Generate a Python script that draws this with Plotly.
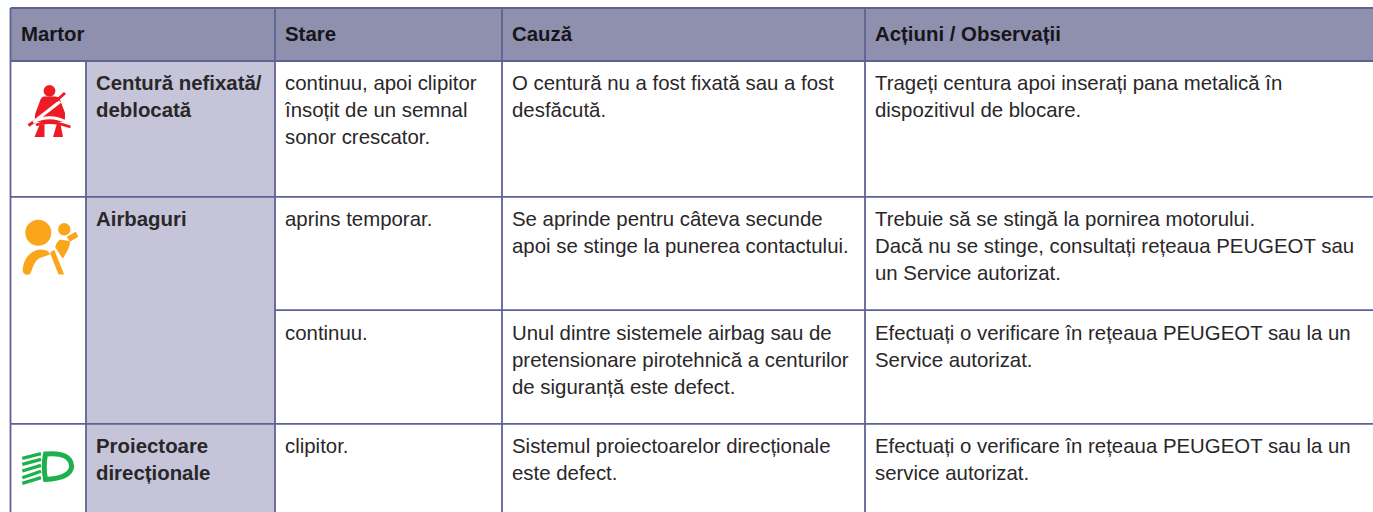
import plotly.graph_objects as go

WIDTH, HEIGHT = 1373, 512

# Table content
header_labels = ["Martor", "Stare", "Cauză", "Acțiuni / Observații"]
header_x = [21, 285, 512, 875]
header_y = 36

lamp_labels = [
    ["Centură nefixată/", "deblocată"],
    ["Airbaguri"],
    ["Proiectoare", "direcționale"],
]
lamp_label_y = [85, 221, 448]

stare = [
    ["continuu, apoi clipitor", "însoțit de un semnal", "sonor crescator."],
    ["aprins temporar."],
    ["continuu."],
    ["clipitor."],
]
cauza = [
    ["O centură nu a fost fixată sau a fost", "desfăcută."],
    ["Se aprinde pentru câteva secunde", "apoi se stinge la punerea contactului."],
    ["Unul dintre sistemele airbag sau de", "pretensionare pirotehnică a centurilor", "de siguranță este defect."],
    ["Sistemul proiectoarelor direcționale", "este defect."],
]
actiuni = [
    ["Trageți centura apoi inserați pana metalică în", "dispozitivul de blocare."],
    ["Trebuie să se stingă la pornirea motorului.", "Dacă nu se stinge, consultați rețeaua PEUGEOT sau", "un Service autorizat."],
    ["Efectuați o verificare în rețeaua PEUGEOT sau la un", "Service autorizat."],
    ["Efectuați o verificare în rețeaua PEUGEOT sau la un", "service autorizat."],
]
row_first_line_y = [85, 221, 335, 448]
line_step = 27.2

# Grid geometry
col_x = [10.5, 86, 275, 502, 865]
top_y, head_y, bottom_y = 8, 61, 512
row_y = [196.8, 310.2, 423.8]

BORDER = "#5f6193"
HEAD_FILL = "#8f8fae"
SUB_FILL = "#c5c4d8"
INK = "#2a2729"
RED, AMBER, GREEN = "#ed1c24", "#faa61a", "#1cb14c"


def rect(x0, y0, x1, y1, fill):
    return dict(type="rect", x0=x0, y0=y0, x1=x1, y1=y1, fillcolor=fill, line_width=0, layer="below")


def line(x0, y0, x1, y1, color=BORDER, width=1.8):
    return dict(type="line", x0=x0, y0=y0, x1=x1, y1=y1, line=dict(color=color, width=width), layer="below")


def blob(path, fill, stroke=None, width=0):
    return dict(type="path", path=path, fillcolor=fill, line=dict(color=stroke or fill, width=width), layer="above")


def circle(cx, cy, r, fill):
    return dict(type="circle", x0=cx - r, x1=cx + r, y0=cy - r, y1=cy + r, fillcolor=fill, line_width=0, layer="above")


def stroke(path, color, width):
    return dict(type="path", path=path, line=dict(color=color, width=width), layer="above")


shapes = [
    rect(col_x[0], top_y, WIDTH, head_y, HEAD_FILL),
    rect(col_x[1], head_y, col_x[2], bottom_y, SUB_FILL),
    line(col_x[0], top_y, WIDTH, top_y),
    line(col_x[0], head_y, WIDTH, head_y, width=2),
    line(col_x[0], row_y[0], WIDTH, row_y[0]),
    line(col_x[2], row_y[1], WIDTH, row_y[1]),
    line(col_x[0], row_y[2], WIDTH, row_y[2]),
    line(col_x[0], top_y, col_x[0], bottom_y),
    line(col_x[1], head_y, col_x[1], bottom_y),
]
shapes += [line(x, top_y, x, bottom_y) for x in col_x[2:]]

# Seat belt lamp
shapes += [
    circle(49.5, 90.8, 5.9, RED),
    blob("M44,96.5 L56,96.5 Q59,97 60.5,101 L65,113 Q65.5,118 64,122 L36,122 Q34,118 35.5,113 L40,101 Q41,97 44,96.5 Z", RED),
    stroke("M38.5,118.5 L28.5,125.5", RED, 3),
    stroke("M35,121 L60,101.5", "#ffffff", 3.4),
    stroke("M56,101 L65,93", RED, 3),
    stroke("M33,122 Q50,113.5 66,122", "#ffffff", 2.8),
    stroke("M36,125 Q50,119.5 70.5,127", RED, 2.6),
    blob("M39.5,125 L34.5,137 L44.5,137 L44.5,124 Z", RED),
    blob("M57,123.5 L53,137 L63,137 L60.5,124 Z", RED),
]

# Airbag lamp
shapes += [
    circle(38.3, 232.7, 13, AMBER),
    circle(64.3, 229.3, 6.2, AMBER),
    blob("M23.3,270.5 Q24,258 33,252.5 Q38,249.5 43.3,250.5 L47.5,251.5 L49,254 L39,257.5 Q34.5,260.5 32.7,265.5 L31,270 Q30,274 27.7,274 Q24,274.5 23.3,270.5 Z", AMBER, AMBER, 1.4),
    blob("M50.5,252.7 L54,250.5 L63.5,274 L58.8,274 Z", AMBER, AMBER, 1),
    blob("M55.7,247 Q57,241.5 60,240 L69.5,241.5 Q69.5,246 67.3,250 L62.7,258 Z", AMBER, AMBER, 1),
    blob("M66.7,236.7 L75.7,231.7 L78.3,236.7 L70,241.7 Z", AMBER),
]

# Directional headlamp lamp
shapes += [
    blob("M45.5,454 Q71,451.5 71.7,466.7 Q70,478.5 45.5,479.5 Q43,467 45.5,454 Z", "#ffffff", GREEN, 5),
]
shapes += [
    stroke(f"M22.3,{left} L41,{right}", GREEN, 3.3)
    for left, right in [(458.3, 453.6), (464.3, 459.3), (471, 465.3), (477.7, 471.3), (483.3, 477.7)]
]


def text_rows(rows, first_ys, x):
    xs, ys, texts = [], [], []
    for row, first in zip(rows, first_ys):
        for i, value in enumerate(row):
            xs.append(x)
            ys.append(first + i * line_step)
            texts.append(value)
    return xs, ys, texts


def text_trace(xs, ys, texts, size, family, color=INK):
    return go.Scatter(
        x=xs, y=ys, text=texts, mode="text", textposition="middle right",
        textfont=dict(size=size, family=family, color=color),
        hoverinfo="skip", showlegend=False, cliponaxis=False,
    )


FONT = "Liberation Sans, Arial, sans-serif"
BOLD = "<b>{}</b>"
SIZE = 20.4

fig = go.Figure()
fig.add_trace(text_trace(header_x, [header_y] * len(header_x), [BOLD.format(t) for t in header_labels], SIZE, FONT, "#17151a"))
lx, ly, lt = text_rows(lamp_labels, lamp_label_y, 96)
fig.add_trace(text_trace(lx, ly, [BOLD.format(t) for t in lt], SIZE, FONT))
for rows, x in ((stare, 285), (cauza, 512), (actiuni, 875)):
    xs, ys, texts = text_rows(rows, row_first_line_y, x)
    fig.add_trace(text_trace(xs, ys, texts, SIZE, FONT))

fig.update_layout(
    width=WIDTH, height=HEIGHT, margin=dict(l=0, r=0, t=0, b=0),
    paper_bgcolor="#ffffff", plot_bgcolor="#ffffff", shapes=shapes,
    xaxis=dict(range=[0, WIDTH], visible=False, fixedrange=True),
    yaxis=dict(range=[HEIGHT, 0], visible=False, fixedrange=True),
)
fig.write_html("out.html", config={"displayModeBar": False},
               post_script="document.body.style.margin='0';document.documentElement.style.overflow='hidden';")
